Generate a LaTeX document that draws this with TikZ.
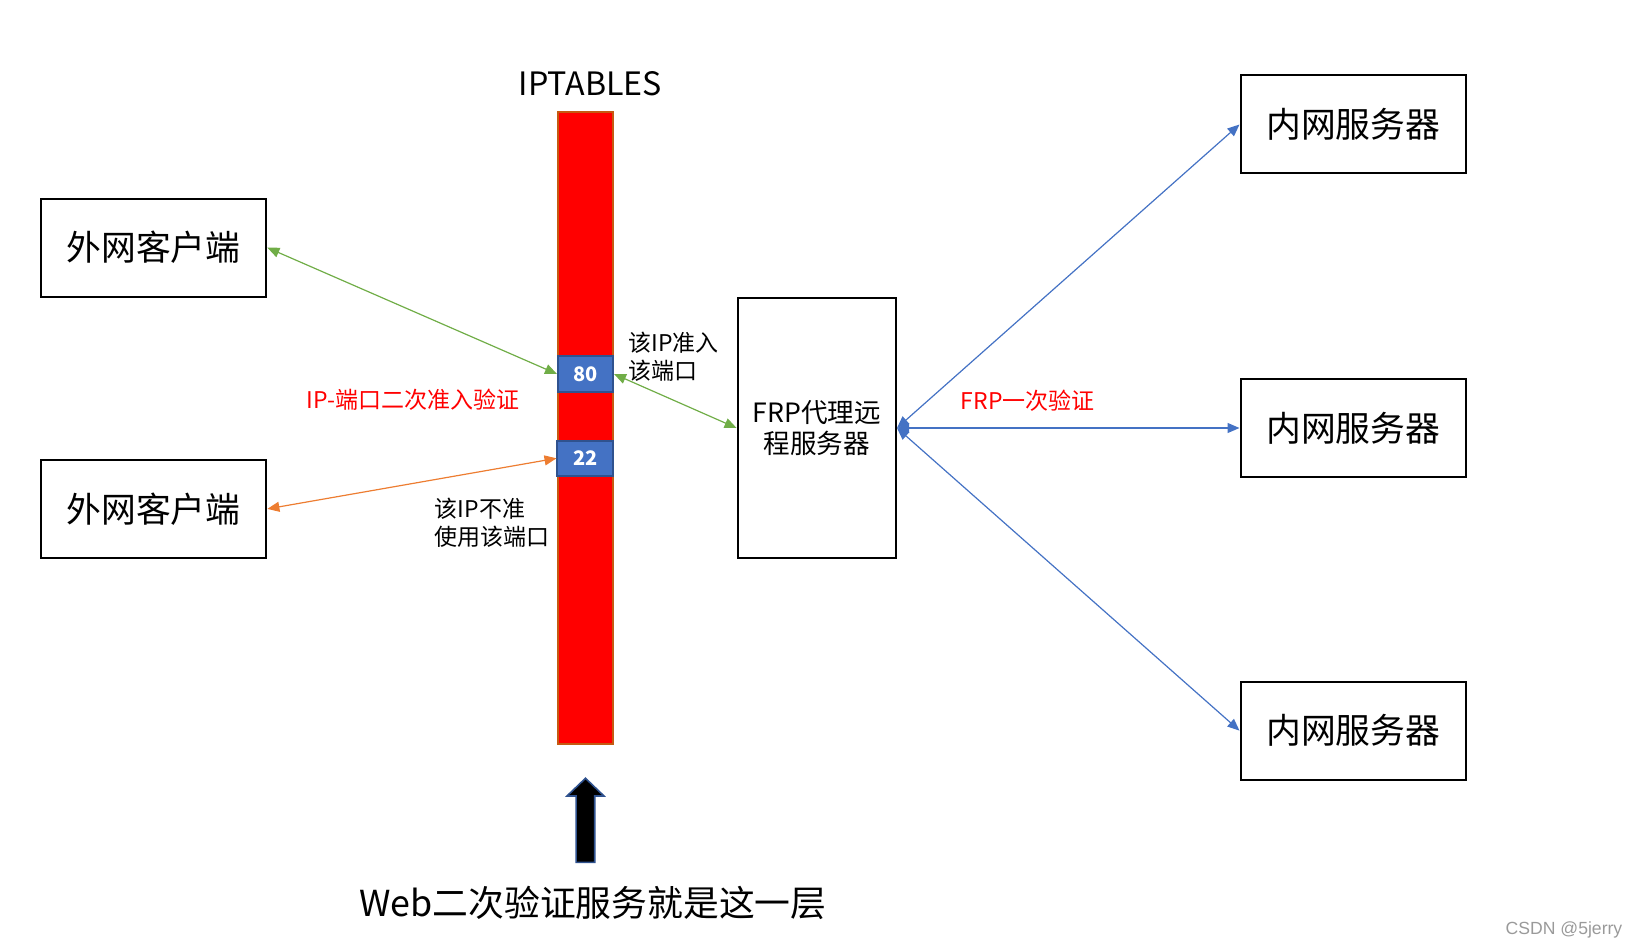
\documentclass[tikz,border=0pt]{standalone}
\usepackage{fontspec}
\setmainfont{Noto Sans CJK SC}
\newfontfamily\markfont{Liberation Sans}
\usetikzlibrary{positioning,arrows.meta}
\definecolor{wallred}{HTML}{FF0000}
\definecolor{walledge}{HTML}{C55A11}
\definecolor{portblue}{HTML}{4472C4}
\definecolor{portedge}{HTML}{2F528F}
\definecolor{greenline}{HTML}{70AD47}
\definecolor{orangeline}{HTML}{ED7D31}
\definecolor{blueline}{HTML}{4472C4}
\definecolor{markgray}{HTML}{9A9A9A}

\begin{document}
\begin{tikzpicture}
  [ box/.style={draw=black,shape=rectangle,line width=1pt,inner sep=0pt}
  , host/.style={box, minimum width=112.8pt, minimum height=49pt,
                 font=\fontsize{17.4}{20}\selectfont}
  , proxy/.style={box, minimum width=79.2pt, minimum height=129.9pt,
                  align=center, font=\fontsize{13.3}{15.6}\selectfont}
  , wall/.style={draw=walledge, fill=wallred, line width=0.75pt,
                 minimum width=27.5pt, minimum height=316pt, inner sep=0pt}
  , port/.style={draw=portedge, fill=portblue, line width=1pt, inner sep=0pt,
                 minimum width=27.5pt, minimum height=18pt, text=white,
                 font=\fontsize{10}{12}\selectfont\bfseries}
  , note/.style={inner sep=0pt, align=left, font=\fontsize{11.5}{14}\selectfont}
  , check/.style={note, text=wallred}
  , link/.style={line width=0.6pt,
                 {Triangle[length=6pt,width=5pt]}-{Triangle[length=6pt,width=5pt]}}
  ]

  \useasboundingbox (-292.75pt,-260pt) rectangle (526.75pt,214pt);

  \node[wall]                                        (iptables) {};
  \node[port, above of=iptables, node distance=27pt] (p80) {80};
  \node[port, below of=iptables, node distance=15.15pt,
        minimum width=28pt, minimum height=17.5pt]   (p22) {22};
  \node[above of=iptables, node distance=172.2pt, xshift=2.45pt,
        font=\fontsize{16.1}{20}\selectfont]         (title) {IPTABLES};

  \node[host, left of=iptables, node distance=215.95pt, yshift=90.15pt]  (outer1) {外网客户端};
  \node[host, left of=iptables, node distance=215.95pt, yshift=-40.45pt] (outer2) {外网客户端};
  \node[proxy, right of=iptables, node distance=115.65pt] (frp)    {FRP代理远\\程服务器};
  \node[host, right of=frp,    node distance=268.25pt]    (inner2) {内网服务器};
  \node[host, above of=inner2, node distance=151.75pt]    (inner1) {内网服务器};
  \node[host, below of=inner2, node distance=151.3pt]     (inner3) {内网服务器};

  \node[note, right=21.25pt of p80.center, yshift=8.5pt]  (allow) {该IP准入\\该端口};
  \node[note, right=83.6pt of outer2.east, yshift=-7pt]   (deny)  {该IP不准\\使用该端口};
  \node[check, left of=iptables, node distance=86.35pt, yshift=13.9pt] (twice) {IP-端口二次准入验证};
  \node[check, right of=frp, node distance=105.5pt, yshift=13.5pt]     (once)  {FRP一次验证};

  \coordinate[below of=iptables, node distance=175.15pt] (tip);
  \node[below of=iptables, node distance=237.5pt, xshift=3.75pt,
        font=\fontsize{17.9}{22}\selectfont]           (layer) {Web二次验证服务就是这一层};
  \node[below of=inner3, node distance=99.75pt, xshift=105.35pt, text=markgray,
        font=\markfont\fontsize{8.8}{10}\selectfont]  (mark)  {CSDN @5jerry};

  \draw[link, greenline]  (outer1.east) -- (p80.west);
  \draw[link, greenline]  (p80.east)    -- (frp.west);
  \draw[link, orangeline] (outer2.east) -- (p22.west);

  \foreach \n in {inner1,inner2,inner3}
    \draw[link, blueline] (frp.east) -- (\n.west);

  % arrow up to the wall
  \draw[draw=portedge, fill=black, line width=0.8pt]
    (tip) -- ++(9.25pt,-8.85pt) -- ++(-4.6pt,0) -- ++(0,-33.15pt)
    -- ++(-9.3pt,0) -- ++(0,33.15pt) -- ++(-4.6pt,0) -- cycle;

\end{tikzpicture}
\end{document}
